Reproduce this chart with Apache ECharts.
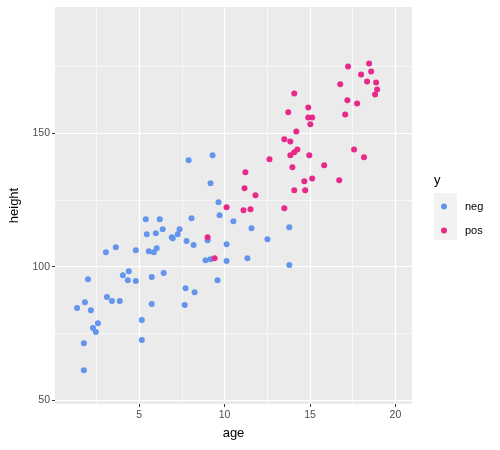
<!DOCTYPE html>
<html>
<head>
<meta charset="utf-8">
<script src="https://cdn.jsdelivr.net/npm/echarts@6/dist/echarts.min.js"></script>
<style>
  html, body { margin: 0; padding: 0; background: #fff; }
  #chart { width: 500px; height: 450px; }
</style>
</head>
<body>
<div id="chart"></div>
<script>
// data
const negAge = [9.65, 9.71, 10.52, 5.39, 6.21, 8.07, 5.45, 5.98, 6.38, 6.91, 6.97, 7.26, 7.37, 7.78, 8.19,
  9.01, 10.12, 3.06, 3.64, 4.81, 5.57, 5.86, 6.03, 8.89, 9.18, 10.12, 2.01, 4.40, 4.05, 4.34,
  4.81, 5.74, 6.44, 7.72, 8.25, 9.59, 3.12, 3.41, 3.87, 1.83, 1.37, 2.18, 5.74, 7.67, 2.59,
  2.30, 2.47, 5.16, 5.16, 1.77, 1.77, 7.90, 9.30, 9.18, 11.58, 13.79, 12.51, 11.34, 13.79];
const negHeight = [124.2, 119.3, 117.0, 117.8, 117.8, 118.2, 112.2, 112.5, 114.0, 111.0, 110.7, 112.2, 114.0, 109.6, 108.1,
  109.9, 108.4, 105.4, 107.3, 106.2, 105.8, 105.4, 106.9, 102.4, 102.8, 102.1, 95.3, 98.3, 96.8, 94.9,
  94.6, 96.1, 97.6, 91.9, 90.4, 94.9, 88.6, 87.1, 87.1, 86.7, 84.5, 83.7, 86.0, 85.6, 78.8,
  77.0, 75.5, 80.0, 72.5, 71.3, 61.2, 139.9, 141.8, 131.3, 114.4, 114.8, 110.3, 103.2, 100.6];
const posAge = [10.12, 9.01, 9.42, 11.11, 11.52, 11.81, 11.17, 11.22, 12.63, 13.50, 13.50, 13.85, 14.26, 14.08, 13.85,
  14.96, 15.83, 13.97, 14.67, 15.13, 16.71, 14.08, 14.72, 17.23, 18.46, 17.99, 18.58, 18.34, 18.87, 18.93,
  18.81, 16.77, 14.08, 17.19, 17.76, 14.90, 13.73, 14.90, 15.13, 17.06, 15.02, 14.20, 17.58, 18.16];
const posHeight = [122.3, 111.0, 103.2, 121.2, 121.5, 126.8, 129.4, 135.4, 140.3, 121.9, 147.8, 147.0, 144.0, 142.9, 141.8,
  141.8, 138.0, 137.3, 132.0, 133.1, 132.4, 128.7, 128.7, 175.1, 176.2, 172.1, 173.2, 169.5, 169.1, 166.5,
  164.6, 168.4, 165.0, 162.4, 161.2, 159.7, 157.9, 156.0, 156.0, 157.1, 153.4, 150.7, 144.0, 141.0];

const xTicks = [5, 10, 15, 20];
const xMinor = [2.5, 7.5, 12.5, 17.5];
const yTicks = [50, 100, 150];
const yMinor = [75, 125, 175];

const font = 'Liberation Sans, Arial, sans-serif';
const chart = echarts.init(document.getElementById('chart'));

const pairs = (xs, ys) => xs.map((x, i) => [x, ys[i]]);

// major axis (labels, ticks, major grid) + hidden axis for the minor grid
const majorAxis = (min, max, ticks) => ({
  type: 'value', min, max,
  axisLine: { show: false },
  axisTick: { show: true, length: 3, lineStyle: { color: '#333', width: 1 }, customValues: ticks },
  axisLabel: { color: '#4d4d4d', fontSize: 10.5, fontFamily: font, customValues: ticks },
  splitLine: { show: true, lineStyle: { color: '#fff', width: 1.2 } }
});
const minorAxis = (min, max, ticks) => ({
  type: 'value', min, max,
  axisLine: { show: false },
  axisTick: { show: false, customValues: ticks },
  axisLabel: { show: false, customValues: ticks },
  splitLine: { show: true, lineStyle: { color: '#fff', width: 0.6 } }
});

const option = {
  animation: false,
  backgroundColor: '#fff',
  grid: { left: 54, top: 7, width: 358, height: 397, show: true, backgroundColor: '#ebebeb', borderWidth: 0 },
  xAxis: [
    Object.assign(majorAxis(0.08, 20.97, xTicks), {
      name: 'age', nameLocation: 'middle', nameGap: 23,
      nameTextStyle: { color: '#000', fontSize: 13, fontFamily: font },
      axisLabel: { color: '#4d4d4d', fontSize: 10.5, fontFamily: font, customValues: xTicks, margin: 6 }
    }),
    minorAxis(0.08, 20.97, xMinor)
  ],
  yAxis: [
    Object.assign(majorAxis(48.5, 197.4, yTicks), {
      name: 'height', nameLocation: 'middle', nameGap: 34,
      nameTextStyle: { color: '#000', fontSize: 13, fontFamily: font },
      axisLabel: { color: '#4d4d4d', fontSize: 10.5, fontFamily: font, customValues: yTicks, margin: 5 }
    }),
    minorAxis(48.5, 197.4, yMinor)
  ],
  legend: {
    orient: 'vertical', left: 436, top: 195,
    icon: 'circle', itemWidth: 18, itemHeight: 6, itemGap: 11,
    textStyle: { color: '#000', fontSize: 11, fontFamily: font, padding: [0, 0, 0, 7], lineHeight: 13 },
    data: ['neg', 'pos']
  },
  graphic: [
    { type: 'text', left: 434, top: 174, style: { text: 'y', fontSize: 13, fontFamily: font, fill: '#000' } },
    { type: 'rect', shape: { x: 434, y: 193, width: 23, height: 47 }, style: { fill: '#f2f2f2' }, z: -1 }
  ],
  series: [
    { name: 'neg', type: 'scatter', symbolSize: 6, itemStyle: { color: '#6495ed', opacity: 1 }, data: pairs(negAge, negHeight) },
    { name: 'pos', type: 'scatter', symbolSize: 6, itemStyle: { color: '#e7298a', opacity: 1 }, data: pairs(posAge, posHeight) }
  ]
};

chart.setOption(option);
</script>
</body>
</html>
